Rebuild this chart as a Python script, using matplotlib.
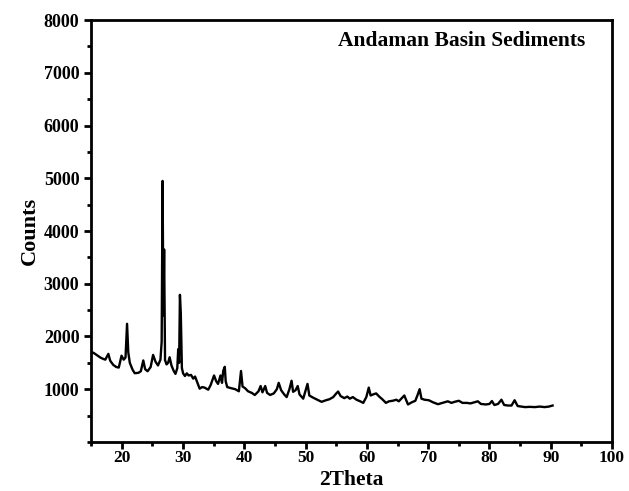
import matplotlib
matplotlib.use("Agg")
import matplotlib.pyplot as plt
from matplotlib.ticker import MultipleLocator

# XRD pattern
two_theta = [15.0, 15.5, 16.0, 16.5, 16.95, 17.3, 17.8, 18.1, 18.6, 19.1, 19.5, 19.95,
             20.3, 20.6, 20.85, 21.05, 21.3, 21.75, 22.1, 22.7, 23.1, 23.5, 23.8, 24.2,
             24.7, 25.1, 25.5, 25.9, 26.3, 26.5, 26.65, 26.78, 26.9, 27.05, 27.3, 27.55,
             27.8, 28.1, 28.45, 28.75, 29.05, 29.2, 29.35, 29.48, 29.62, 29.8, 30.0, 30.3,
             30.6, 30.9, 31.3, 31.65, 31.95, 32.4, 32.7, 33.1, 33.5, 34.1, 34.5, 35.05,
             35.4, 35.7, 36.1, 36.35, 36.55, 36.8, 36.95, 37.2, 37.8, 38.5, 39.1, 39.45,
             39.7, 40.1, 40.6, 41.2, 41.7, 42.3, 42.65, 42.95, 43.4, 43.7, 44.2, 44.8,
             45.3, 45.6, 46.0, 46.5, 46.9, 47.35, 47.7, 47.95, 48.35, 48.7, 49.0, 49.6,
             50.05, 50.3, 50.6, 51.2, 51.9, 52.6, 53.3, 53.9, 54.5, 55.0, 55.3, 55.7,
             56.3, 56.8, 57.2, 57.7, 58.3, 58.9, 59.4, 59.9, 60.3, 60.6, 61.0, 61.5,
             62.0, 62.5, 63.1, 63.6, 64.2, 64.8, 65.2, 65.7, 66.1, 66.7, 67.3, 67.9,
             68.3, 68.6, 68.9, 69.4, 70.1, 70.8, 71.6, 72.3, 73.2, 73.8, 74.3, 75.0,
             75.6, 76.3, 76.9, 77.5, 78.1, 78.6, 79.4, 80.0, 80.4, 80.8, 81.4, 81.95,
             82.4, 83.0, 83.6, 84.1, 84.6, 85.2, 85.8, 86.6, 87.4, 88.2, 89.0, 89.7, 90.3]
counts = [1710, 1680, 1640, 1600, 1575, 1560, 1670, 1540, 1460, 1420, 1410, 1636,
          1560, 1600, 2240, 1700, 1500, 1370, 1303, 1310, 1340, 1545, 1380, 1340,
          1420, 1650, 1520, 1450, 1560, 1900, 4950, 2400, 3650, 1550, 1470, 1500,
          1605, 1450, 1350, 1290, 1400, 1760, 1500, 2790, 2450, 1400, 1300, 1250,
          1300, 1260, 1270, 1200, 1240, 1100, 1010, 1040, 1030, 990, 1080, 1260,
          1150, 1100, 1260, 1120, 1350, 1424, 1150, 1040, 1020, 1000, 960, 1345,
          1050, 1020, 960, 930, 890, 960, 1060, 940, 1060, 930, 890, 920,
          1000, 1120, 980, 900, 850, 1000, 1160, 950, 980, 1060, 900, 820,
          1000, 1100, 880, 840, 800, 760, 790, 810, 850, 920, 955, 870,
          830, 860, 820, 850, 800, 770, 740, 850, 1030, 880, 900, 920,
          860, 810, 740, 770, 780, 800, 770, 830, 880, 710, 750, 780,
          900, 1000, 820, 800, 790, 750, 715, 740, 770, 740, 760, 780,
          740, 740, 730, 750, 770, 720, 710, 720, 775, 700, 720, 800,
          700, 690, 690, 790, 680, 670, 660, 665, 660, 670, 660, 670, 690]

x_ticks = [20, 30, 40, 50, 60, 70, 80, 90, 100]
y_ticks = [1000, 2000, 3000, 4000, 5000, 6000, 7000, 8000]

plt.rcParams['font.family'] = ['Liberation Serif', 'DejaVu Serif']
plt.rcParams['font.weight'] = 'bold'

fig = plt.figure(figsize=(6.29, 4.91), dpi=100)
ax = fig.add_axes([0.145, 0.1, 0.828, 0.859])

ax.plot(two_theta, counts, color='black', lw=1.7)

ax.set_xlim(15, 100)
ax.set_ylim(0, 8000)
ax.set_xticks(x_ticks)
ax.set_yticks(y_ticks)
ax.xaxis.set_minor_locator(MultipleLocator(5))
ax.yaxis.set_minor_locator(MultipleLocator(500))
ax.tick_params(which='major', direction='out', length=5, width=2, labelsize=13)
ax.tick_params(which='minor', direction='out', length=3, width=2)
ax.tick_params(axis='x', which='major', pad=1, labelsize=12.5)
for lab in ax.get_xticklabels() + ax.get_yticklabels():
    lab.set_fontweight('bold')
for s in ax.spines.values():
    s.set_linewidth(2)

# x label placed by hand so it stays inside the tight bottom margin
fig.text(0.559, 0.002, '2Theta', ha='center', va='bottom',
         fontsize=15.5, fontweight='bold')
ax.set_ylabel('Counts', fontsize=16, fontweight='bold', labelpad=3)
ax.text(0.948, 0.95, 'Andaman Basin Sediments', transform=ax.transAxes,
        ha='right', va='center', fontsize=15.5, fontweight='bold')

fig.savefig('out.png', dpi=100)
